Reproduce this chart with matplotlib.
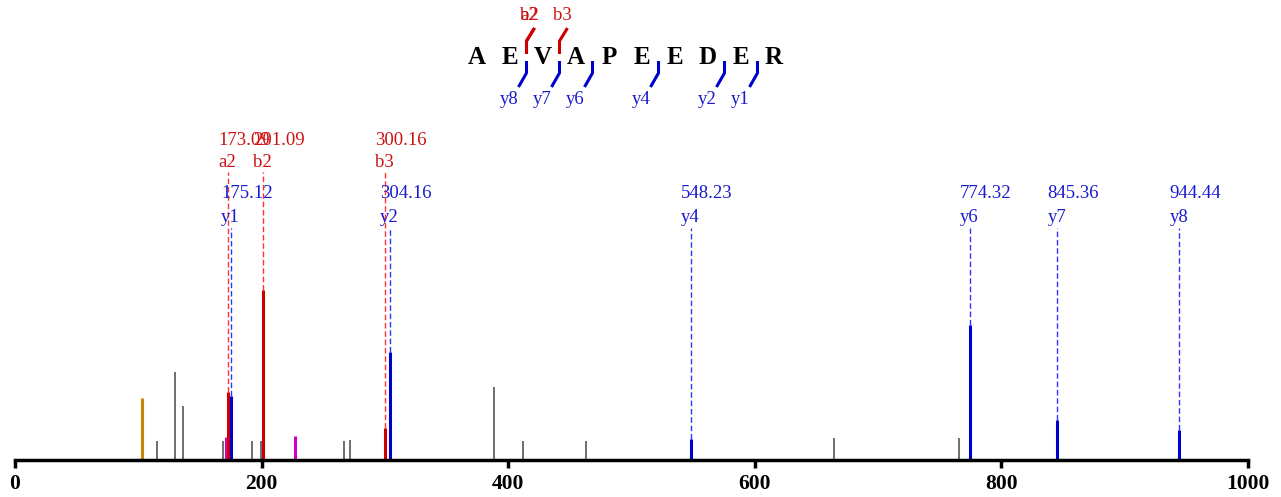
import numpy as np
import matplotlib
matplotlib.use("Agg")
import matplotlib.pyplot as plt

plt.rcParams['font.family'] = ['Liberation Serif', 'DejaVu Serif']

# peptide
sequence = "AEVAPEEDER"

# unassigned peaks
gray_mz = [115.2, 130.0, 136.5, 169.0, 192.5, 199.5, 267.0, 271.4, 388.8, 411.8, 463.3, 664.2, 765.4]
gray_int = [11, 52, 32, 11, 11, 11, 11, 12, 43, 11, 11, 13, 13]
orange_mz = [103.2]
orange_int = [36.5]
magenta_mz = [171.1, 227.0]
magenta_int = [13.5, 14]

# b / a ions
b_labels = ['a2', 'b2', 'b3']
b_mz = [173.09, 201.09, 300.16]
b_int = [40, 100, 19]

# y ions
y_labels = ['y1', 'y2', 'y4', 'y6', 'y7', 'y8']
y_mz = [175.12, 304.16, 548.23, 774.32, 845.36, 944.44]
y_int = [37.6, 63.5, 12.4, 79.4, 23.5, 17.6]

RED = '#cc0000'
BLUE = '#0000cc'
RED_T = '#cc1111'
BLUE_T = '#1a1acc'

W, H = 1281, 497
fig = plt.figure(figsize=(W / 100, H / 100), dpi=100)
ax = fig.add_axes([15 / W, 37 / H, 1233 / W, 460 / H])
ymax = 270.6
px = ymax / 460  # data units per pixel
ax.set_xlim(0, 1000)
ax.set_ylim(0, ymax)

# dashed guide lines + labels
y_top, y_ion_y, y_mz_y = (460 - 228) * px, (460 - 217) * px, (460 - 194) * px
b_top, b_ion_y, b_mz_y = (460 - 172) * px, (460 - 162) * px, (460 - 140) * px
fs = 13.5
for lab, m, i in zip(b_labels, b_mz, b_int):
    ax.vlines(m, i, b_top, colors='#ff3333', linestyles=(0, (4, 2)), lw=1)
    ax.text(m - 8, b_mz_y, f"{m:.2f}", color=RED_T, fontsize=fs, va='center', ha='left')
    ax.text(m - 8, b_ion_y, lab, color=RED_T, fontsize=fs, va='center', ha='left')
for lab, m, i in zip(y_labels, y_mz, y_int):
    ax.vlines(m, i, y_top, colors='#3333ff', linestyles=(0, (4, 2)), lw=1)
    ax.text(m - 8, y_mz_y, f"{m:.2f}", color=BLUE_T, fontsize=fs, va='center', ha='left')
    ax.text(m - 8, y_ion_y, lab, color=BLUE_T, fontsize=fs, va='center', ha='left')

# peaks
ax.vlines(gray_mz, 0, gray_int, colors='#555555', lw=1.2)
ax.vlines(orange_mz, 0, orange_int, colors='#c8860a', lw=2.2)
ax.vlines(magenta_mz, 0, magenta_int, colors='#cc00cc', lw=2.2)
ax.vlines(b_mz, 0, b_int, colors=RED, lw=2.2)
ax.vlines(y_mz, 0, y_int, colors=BLUE, lw=2.2)

for s in ['top', 'right', 'left']:
    ax.spines[s].set_visible(False)
ax.spines['bottom'].set_linewidth(2.5)
ax.set_yticks([])
ax.set_xticks(np.arange(0, 1001, 200))
ax.tick_params(axis='x', direction='out', length=6, width=2.5, labelsize=15.5, pad=4)
for t in ax.get_xticklabels():
    t.set_fontweight('bold')

# sequence annotation (pixel coordinates)
ov = fig.add_axes([0, 0, 1, 1])
ov.set_xlim(0, W)
ov.set_ylim(H, 0)
ov.axis('off')
x0, step, yseq = 477, 33, 58
for k, aa in enumerate(sequence):
    ov.text(x0 + k * step, yseq, aa, fontsize=18, fontweight='bold', ha='center', va='center')

n = len(sequence)
for lab in b_labels:
    pos = int(lab[1:])
    x = x0 + step * (pos - 0.5)
    ov.plot([x, x, x + 8], [54, 41, 28], color=RED, lw=2.2, solid_capstyle='butt')
    ov.text(x + 3, 16, lab, color=RED_T, fontsize=13.5, ha='center', va='center')
for lab in y_labels:
    pos = n - int(lab[1:])
    x = x0 + step * (pos - 0.5)
    ov.plot([x, x, x - 8], [61, 73, 87], color=BLUE, lw=2.2, solid_capstyle='butt')
    ov.text(x - 17, 99, lab, color=BLUE_T, fontsize=13.5, ha='center', va='center')

fig.savefig("out.png", dpi=100)
